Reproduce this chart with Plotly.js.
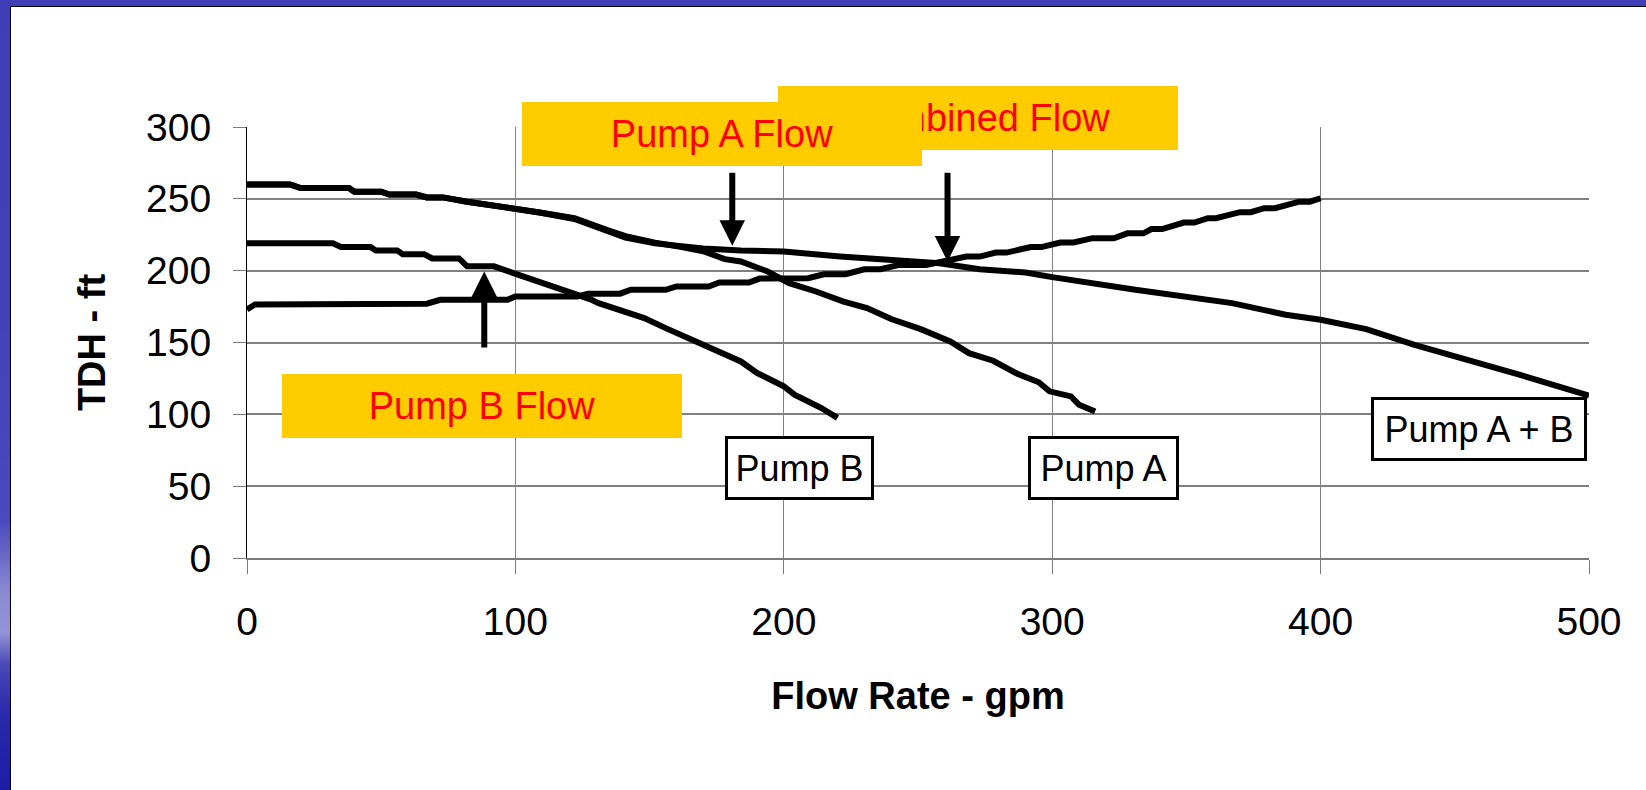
<!DOCTYPE html>
<html>
<head>
<meta charset="utf-8">
<script src="https://cdn.plot.ly/plotly-3.0.1.min.js"></script>
<style>
html, body { margin:0; padding:0; width:1646px; height:790px; overflow:hidden; }
body {
  background: linear-gradient(to bottom, #3e3eb6 0%, #4242b8 40%, #4a4abc 66%, #8a8ad2 75%, #9494d8 80%, #4a4ab8 84%, #2a2aac 90%, #1c1ca6 100%);
}
#frame { position:absolute; left:10px; top:6px; width:1636px; height:784px; background:#fff;
  border-left:1px solid #000; border-top:1px solid #000; box-sizing:border-box; }
#chart { position:absolute; left:11px; top:7px; width:1635px; height:783px; }
</style>
</head>
<body>
<div id="frame"></div>
<div id="chart"></div>
<script>
// ---------- data ----------
const pumpA_x = [0,16,20,38,40,50,53,63,67,73,82,90,100,109,122,128,134,141,152,162,170,178,184,194,202,212,222,231,240,251,262,269,278,287,295,299,307,310,316];
const pumpA_y = [260,260,257.5,257.5,255,255,253,253,251,251,248,246,243,240.5,236.5,233,228.5,224,219.5,216.5,213.5,208,206.4,199.4,191.3,185.5,178.6,174,166.3,159.3,150.7,142.6,137.3,128.3,122.3,116,112.5,106.7,102];

const pumpB_x = [0,32,35,46,48,56,58,66,69,79,82,92,99,107,114,120,128,131,140,148,156,168,176,184,190,200,204,214,220];
const pumpB_y = [219,219,216.5,216.5,214,214,211.5,211.5,208.5,208.5,203,203,198.5,193.6,189.5,185.5,180,177.4,172,167,160,149.6,143,136.8,128.8,119.5,113.7,104.4,97.5];

const system_x = [0,3,67,72,97,100,123,127,139,143,156,160,172,176,187,191,209,215,223,230,236,243,253,258,268,273,279,283,292,296,303,308,315,323,328,334,337,341,349,353,358,361,370,374,379,383,392,396,400];
const system_y = [173,176.5,177,179.7,179.7,182,182,184,184,186.7,186.7,189,189,191.8,191.8,194.5,194.8,197.5,197.5,201,201,204,204,205.7,209.8,209.8,212.6,212.6,216.4,216.4,219.6,219.6,222.6,222.6,226,226,229,229,233.5,233.5,236.5,236.5,240.7,240.7,243.5,243.5,248,248,250.4];

const combined_x = [0,16,20,38,40,50,53,63,67,73,82,90,100,109,122,128,134,141,152,162,170,184,196,200,221,240,258,273,290,300,318,331,367,387,400,417,435,453,474,500];
const combined_y = [260,260,257.5,257.5,255,255,253,253,251,251,248,246,243,240.5,236,232,227.5,223,219,216.5,215.5,214,214,213.3,209.9,207,205.2,201,198.7,195.5,190.2,186.7,177.4,169.3,165.8,159.3,148.4,139.2,127.6,113];

const xTicks = [0,100,200,300,400,500];
const yTicks = [0,50,100,150,200,250,300];
const xTitle = 'Flow Rate - gpm';
const yTitle = 'TDH - ft';
const curveLabels = ['Pump B', 'Pump A', 'Pump A + B'];
const flowLabels = ['Combined Flow', 'Pump A Flow', 'Pump B Flow'];

// ---------- chart ----------
const FONT = 'Liberation Sans, Arial, Helvetica, sans-serif';
const lineStyle = {color:'#000000', width:6, shape:'linear'};
function curve(x, y){
  return {x:x, y:y, type:'scatter', mode:'lines', line:lineStyle, hoverinfo:'skip', cliponaxis:false, showlegend:false};
}
const traces = [curve(system_x, system_y), curve(pumpB_x, pumpB_y), curve(pumpA_x, pumpA_y), curve(combined_x, combined_y)];

function flowBox(text, x, y, yanchor){
  return {xref:'x', yref:'y', x:x, y:y, xanchor:'center', yanchor:yanchor, text:text, showarrow:false,
    bgcolor:'#FFCC00', borderwidth:0, borderpad:0, width:400, height:64, align:'center', valign:'middle',
    font:{family:FONT, size:38, color:'#FF0000'}};
}
function curveBox(text, x, y, w){
  return {xref:'x', yref:'y', x:x, y:y, xanchor:'center', yanchor:'middle', text:text, showarrow:false,
    bgcolor:'#FFFFFF', bordercolor:'#000000', borderwidth:3, borderpad:0, width:w, height:58, align:'center', valign:'middle',
    font:{family:FONT, size:36, color:'#000000'}};
}
function arrow(x, yTip, yTail){
  return {xref:'x', yref:'y', axref:'x', ayref:'y', x:x, y:yTip, ax:x, ay:yTail, text:'', showarrow:true,
    arrowhead:2, arrowsize:0.85, arrowwidth:6, arrowcolor:'#000000', standoff:0, startstandoff:0};
}

const annotations = [
  flowBox(flowLabels[0], 272.3, 283.9, 'bottom'),
  flowBox(flowLabels[1], 176.9, 295.3, 'middle'),
  flowBox(flowLabels[2], 87.6, 106.1, 'middle'),
  curveBox(curveLabels[0], 205.9, 62.9, 143),
  curveBox(curveLabels[1], 319, 62.9, 145),
  curveBox(curveLabels[2], 459, 89.7, 210),
  arrow(180.8, 217.3, 269.2),
  arrow(261, 206.4, 269.2),
  arrow(88.4, 199.4, 145.4)
];

const layout = {
  width:1635, height:783,
  margin:{l:236, r:57, t:120, b:232, pad:0},
  paper_bgcolor:'#FFFFFF', plot_bgcolor:'#FFFFFF',
  showlegend:false,
  font:{family:FONT, color:'#000000', size:39},
  xaxis:{
    range:[0,500], tickvals:xTicks, ticktext:xTicks.map(String),
    showgrid:true, gridcolor:'#808080', gridwidth:1,
    zeroline:false, showline:true, linecolor:'#7a7a7a', linewidth:2,
    ticks:'outside', ticklen:14, tickwidth:1, tickcolor:'#7a7a7a', ticklabelstandoff:14,
    tickfont:{family:FONT, size:39, color:'#000000'},
    title:{text:xTitle, font:{family:FONT, size:38, color:'#000000', weight:'bold'}, standoff:41},
    fixedrange:true, automargin:false
  },
  yaxis:{
    range:[0,300], tickvals:yTicks, ticktext:yTicks.map(String),
    showgrid:true, gridcolor:'#808080', gridwidth:2,
    zeroline:false, showline:true, linecolor:'#000000', linewidth:1,
    ticks:'outside', ticklen:13, tickwidth:1, tickcolor:'#7a7a7a', ticklabelstandoff:14,
    tickfont:{family:FONT, size:39, color:'#000000'},
    title:{text:yTitle, font:{family:FONT, size:38, color:'#000000', weight:'bold'}, standoff:28},
    fixedrange:true, automargin:false
  },
  annotations:annotations
};

Plotly.newPlot('chart', traces, layout, {displayModeBar:false, staticPlot:true});
</script>
</body>
</html>
